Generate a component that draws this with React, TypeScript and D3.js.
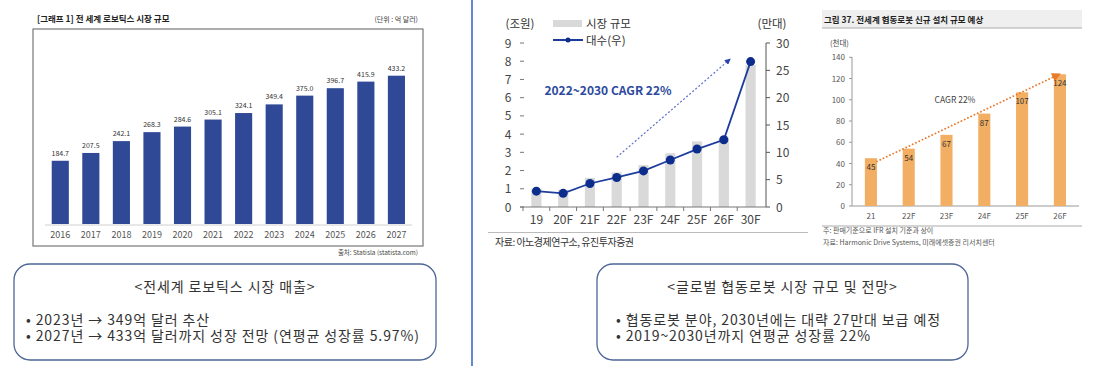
import React from 'react';
import * as d3 from 'd3';

// left chart: 전 세계 로보틱스 시장 규모 (억 달러)
const robotYears = ['2016', '2017', '2018', '2019', '2020', '2021', '2022', '2023', '2024', '2025', '2026', '2027'];
const robotMarket = [184.7, 207.5, 242.1, 268.3, 284.6, 305.1, 324.1, 349.4, 375.0, 396.7, 415.9, 433.2];

// middle chart: 협동로봇 시장 규모 (조원) + 대수 (만대)
const cobotCats = ['19', '20F', '21F', '22F', '23F', '24F', '25F', '26F', '30F'];
const cobotMarket = [1.0, 0.95, 1.6, 1.9, 2.3, 2.95, 3.6, 3.8, 7.8];
const cobotUnits = [2.9, 2.5, 4.3, 5.4, 6.6, 8.6, 10.6, 12.3, 26.6];
const leftTicks = [0, 1, 2, 3, 4, 5, 6, 7, 8, 9];
const rightTicks = [0, 5, 10, 15, 20, 25, 30];

// right chart: 협동로봇 신규 설치 (천대)
const installCats = ['21', '22F', '23F', '24F', '25F', '26F'];
const installValues = [45, 54, 67, 87, 107, 124];
const installTicks = [0, 20, 40, 60, 80, 100, 120, 140];

const KR = '"Noto Sans CJK KR", "Noto Sans", sans-serif';

const RobotChart = () => {
  const x = d3.scaleBand().domain(robotYears).range([45, 411.7]).paddingInner(0.44).paddingOuter(0.22);
  const y = d3.scaleLinear().domain([0, 433.2]).range([224, 75.7]);
  const base = y(0);
  return (
    <g>
      <text x={37} y={22} fontSize={8.5} fontWeight="bold" fill="#222">[그래프 1] 전 세계 로보틱스 시장 규모</text>
      <text x={418} y={22} fontSize={7} fill="#444" textAnchor="end">(단위 : 억 달러)</text>
      <rect x={33} y={29} width={390} height={217} fill="none" stroke="#777" strokeWidth={1.2} />
      <line x1={45} x2={412} y1={base + 1} y2={base + 1} stroke="#d0d0d0" />
      {robotYears.map((yr, i) => (
        <g key={yr}>
          <rect x={x(yr)} y={y(robotMarket[i])} width={x.bandwidth()} height={base - y(robotMarket[i])} fill="#2f4996" />
          <text x={x(yr)! + x.bandwidth() / 2} y={y(robotMarket[i]) - 5} fontSize={7} fill="#333" textAnchor="middle">
            {robotMarket[i].toFixed(1)}
          </text>
          <text x={x(yr)! + x.bandwidth() / 2} y={237.5} fontSize={9} fill="#555" textAnchor="middle">{yr}</text>
        </g>
      ))}
      <text x={418} y={255} fontSize={6.5} fill="#444" textAnchor="end">출처: Statisla (statista.com)</text>
    </g>
  );
};

const CobotMarketChart = () => {
  const x = d3.scaleBand().domain(cobotCats).range([523, 764]).paddingInner(0.62).paddingOuter(0.31);
  const yL = d3.scaleLinear().domain([0, 9]).range([207, 43]);
  const yR = d3.scaleLinear().domain([0, 30]).range([207, 43]);
  const cx = (c: string) => x(c)! + x.bandwidth() / 2;
  const line = d3.line<number>().x((_, i) => cx(cobotCats[i])).y(d => yR(d));
  const step = x.step();
  return (
    <g fontFamily={KR}>
      <defs>
        <marker id="blueArrow" viewBox="0 0 10 10" refX="8" refY="5" markerWidth="5" markerHeight="5" orient="auto">
          <path d="M0,0 L10,5 L0,10 z" fill="#2743b0" />
        </marker>
      </defs>
      <text x={520} y={28} fontSize={11.5} fill="#333" textAnchor="middle">(조원)</text>
      <text x={772} y={28} fontSize={11.5} fill="#333" textAnchor="middle">(만대)</text>
      {/* legend */}
      <rect x={553} y={20} width={29} height={7} fill="#d9d9d9" />
      <text x={586} y={28} fontSize={11.5} fill="#333">시장 규모</text>
      <line x1={553} x2={583} y1={40} y2={40} stroke="#1d3c9e" strokeWidth={2} />
      <circle cx={568} cy={40} r={2.5} fill="#0c2d8c" />
      <text x={586} y={44.5} fontSize={11.5} fill="#333">대수(우)</text>
      {/* bars */}
      {cobotCats.map((c, i) => (
        <rect key={c} x={x(c)} y={yL(cobotMarket[i])} width={x.bandwidth()} height={yL(0) - yL(cobotMarket[i])} fill="#d9d9d9" />
      ))}
      {/* left axis */}
      {leftTicks.map(t => (
        <g key={t}>
          <line x1={520} x2={524} y1={yL(t)} y2={yL(t)} stroke="#777" />
          <text x={508} y={yL(t) + 4.5} fontSize={12} fill="#444" textAnchor="middle">{t}</text>
        </g>
      ))}
      {/* right axis */}
      <line x1={766} x2={766} y1={43} y2={207} stroke="#555" />
      {rightTicks.map(t => (
        <g key={t}>
          <line x1={766} x2={770} y1={yR(t)} y2={yR(t)} stroke="#555" />
          <text x={776} y={yR(t) + 4.5} fontSize={12} fill="#444">{t}</text>
        </g>
      ))}
      {/* baseline */}
      <line x1={520} x2={766} y1={207} y2={207} stroke="#777" />
      {cobotCats.map((c, i) => (
        <g key={c}>
          <line x1={523 + step * i} x2={523 + step * i} y1={207} y2={211} stroke="#777" />
          <text x={cx(c)} y={224} fontSize={12} fill="#444" textAnchor="middle">{c}</text>
        </g>
      ))}
      {/* units line */}
      <path d={line(cobotUnits)!} fill="none" stroke="#1d3c9e" strokeWidth={1.8} />
      {cobotUnits.map((v, i) => (
        <circle key={i} cx={cx(cobotCats[i])} cy={yR(v)} r={4.5} fill="#0c2d8c" />
      ))}
      {/* CAGR annotation */}
      <line x1={cx('22F')} y1={yL(2.73)} x2={cx('26F') + 6} y2={yL(8.1)} stroke="#5a6fc8" strokeWidth={1.2}
        strokeDasharray="2 2" markerEnd="url(#blueArrow)" />
      <text x={608} y={95} fontSize={12} fontWeight="bold" fill="#2c4a9e" textAnchor="middle">2022~2030 CAGR 22%</text>
      {/* source */}
      <line x1={488} x2={808} y1={232.5} y2={232.5} stroke="#bbb" />
      <text x={495} y={246} fontSize={10} fill="#333" letterSpacing={-0.5}>자료: 아노경제연구소, 유진투자증권</text>
    </g>
  );
};

const CobotInstallChart = () => {
  const x = d3.scaleBand().domain(installCats).range([852, 1078.8]).paddingInner(0.68).paddingOuter(0.34);
  const y = d3.scaleLinear().domain([0, 140]).range([206, 57.3]);
  const cx = (c: string) => x(c)! + x.bandwidth() / 2;
  const first = installCats[0];
  const last = installCats[installCats.length - 1];
  return (
    <g fontFamily={KR}>
      <defs>
        <marker id="orangeArrow" viewBox="0 0 10 10" refX="5" refY="5" markerWidth="5" markerHeight="5" orient="auto">
          <path d="M0,0 L10,5 L0,10 z" fill="#e87a2a" />
        </marker>
      </defs>
      <rect x={822} y={10} width={260} height={18} fill="#efefef" />
      <line x1={822} x2={1082} y1={28} y2={28} stroke="#aaa" />
      <text x={824} y={22.5} fontSize={8.5} fontWeight="bold" fill="#222">그림 37. 전세계 협동로봇 신규 설치 규모 예상</text>
      <text x={830} y={46} fontSize={7.5} fill="#444">(천대)</text>
      <line x1={852} x2={852} y1={57} y2={206} stroke="#999" />
      {installTicks.map(t => (
        <g key={t}>
          <line x1={849} x2={852} y1={y(t)} y2={y(t)} stroke="#999" />
          <text x={845} y={y(t) + 3} fontSize={8} fill="#555" textAnchor="end">{t}</text>
        </g>
      ))}
      <line x1={852} x2={1079} y1={206} y2={206} stroke="#999" />
      {installCats.map((c, i) => (
        <g key={c}>
          <rect x={x(c)} y={y(installValues[i])} width={x.bandwidth()} height={y(0) - y(installValues[i])} fill="#f2ae63" />
          <text x={cx(c)} y={y(installValues[i]) + 12} fontSize={8} fill="#333" textAnchor="middle">{installValues[i]}</text>
          <text x={cx(c)} y={219} fontSize={8} fill="#555" textAnchor="middle">{c}</text>
        </g>
      ))}
      <line x1={x(first)! + x.bandwidth()} y1={y(42)} x2={cx(last) - 3} y2={y(123)} stroke="#e87a2a" strokeWidth={1.8}
        strokeDasharray="0.1 3.5" strokeLinecap="round" markerEnd="url(#orangeArrow)" />
      <text x={955} y={103} fontSize={8.5} fill="#444" textAnchor="middle">CAGR 22%</text>
      <line x1={822} x2={1082} y1={226} y2={226} stroke="#aaa" />
      <text x={823} y={233} fontSize={7} fill="#555">주: 판매기준으로 IFR 설치 기준과 상이</text>
      <text x={823} y={244.5} fontSize={7} fill="#555">자료: Harmonic Drive Systems, 미래에셋증권 리서치센터</text>
    </g>
  );
};

const CaptionBox = ({ x, width, indent, title, lines }: { x: number; width: number; indent: number; title: string; lines: string[] }) => (
  <g fontFamily={KR}>
    <rect x={x} y={264} width={width} height={96} rx={16} ry={16} fill="#fff" stroke="#4f6598" strokeWidth={1.3} />
    <text x={x + width / 2} y={292} fontSize={14} letterSpacing={0.9} fill="#333" textAnchor="middle">{title}</text>
    {lines.map((l, i) => (
      <text key={i} x={x + indent} y={325 + i * 15.5} fontSize={14} letterSpacing={0.9} fill="#333">{'• ' + l}</text>
    ))}
  </g>
);

export default function App() {
  return (
    <div style={{ position: 'fixed', left: 0, top: 0 }}>
      <svg width={1094} height={371} style={{ display: 'block', background: '#fff' }} fontFamily={KR}>
        <RobotChart />
        <line x1={472} x2={472} y1={0} y2={366} stroke="#3f6bc8" strokeWidth={1.6} />
        <CobotMarketChart />
        <CobotInstallChart />
        <CaptionBox x={14} width={422} indent={12} title="<전세계 로보틱스 시장 매출>"
          lines={['2023년 → 349억 달러 추산', '2027년 → 433억 달러까지 성장 전망 (연평균 성장률 5.97%)']} />
        <CaptionBox x={597} width={371} indent={19} title="<글로벌 협동로봇 시장 규모 및 전망>"
          lines={['협동로봇 분야, 2030년에는 대략 27만대 보급 예정', '2019~2030년까지 연평균 성장률 22%']} />
      </svg>
    </div>
  );
}
